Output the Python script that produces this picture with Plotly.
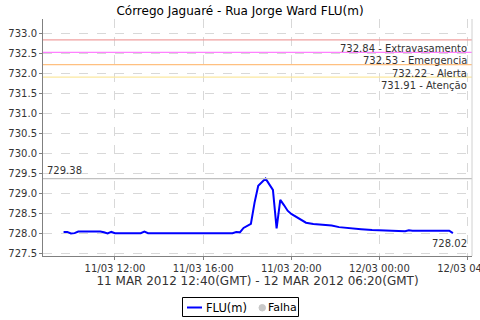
import plotly.graph_objects as go

# Series (local time)
times = ["2012-03-11 09:40", "2012-03-11 09:50", "2012-03-11 10:00", "2012-03-11 10:10",
         "2012-03-11 10:20", "2012-03-11 11:20", "2012-03-11 11:30", "2012-03-11 11:40",
         "2012-03-11 11:50", "2012-03-11 12:00", "2012-03-11 13:10", "2012-03-11 13:20",
         "2012-03-11 13:30", "2012-03-11 17:20", "2012-03-11 17:30", "2012-03-11 17:40",
         "2012-03-11 17:50", "2012-03-11 18:00", "2012-03-11 18:10", "2012-03-11 18:20",
         "2012-03-11 18:30", "2012-03-11 18:50", "2012-03-11 19:10", "2012-03-11 19:20",
         "2012-03-11 19:30", "2012-03-11 19:40", "2012-03-11 19:50", "2012-03-11 20:00",
         "2012-03-11 20:10", "2012-03-11 20:40", "2012-03-11 21:00", "2012-03-11 21:50",
         "2012-03-11 22:10", "2012-03-11 22:30", "2012-03-11 23:10", "2012-03-11 23:40",
         "2012-03-12 01:00", "2012-03-12 01:10", "2012-03-12 01:20", "2012-03-12 01:30",
         "2012-03-12 03:10", "2012-03-12 03:20"]
flu = [728.05, 728.05, 728.01, 728.02,
       728.06, 728.06, 728.04, 728.01,
       728.05, 728.02, 728.02, 728.06,
       728.02, 728.02, 728.05, 728.04,
       728.15, 728.20, 728.25, 728.78,
       729.20, 729.38, 729.10, 728.14,
       728.85, 728.72, 728.58, 728.50,
       728.45, 728.28, 728.25, 728.21,
       728.17, 728.15, 728.12, 728.10,
       728.08, 728.07, 728.09, 728.08,
       728.08, 728.02]

# Threshold markers
levels = [732.84, 732.53, 732.22, 731.91]
level_names = ["Extravasamento", "Emergencia", "Alerta", "Atenção"]
level_colors = ["#f0a0a0", "#ff80ff", "#ffc080", "#fbe8a0"]

max_val = 729.38
last_val = 728.02

title = "Córrego Jaguaré - Rua Jorge Ward FLU(m)"
xlabel = "11 MAR 2012 12:40(GMT) - 12 MAR 2012 06:20(GMT)"
legend_names = ["FLU(m)", "Falha"]

FONT = "DejaVu Sans"

# plot area in pixels (for placing the hand-made legend)
L, R, T, B = 43, 472, 19, 256
W, H = R - L, B - T


def px(x):
    return (x - L) / W


def py(y):
    return (B - y) / H


fig = go.Figure()
fig.add_trace(go.Scatter(x=times, y=flu, mode="lines", name=legend_names[0],
                         line=dict(color="#0000ff", width=2), showlegend=False))

shapes = []
annotations = []
for v, n, c in zip(levels, level_names, level_colors):
    shapes.append(dict(type="line", xref="paper", x0=0, x1=1, yref="y", y0=v, y1=v,
                       line=dict(color=c, width=1.2)))
    annotations.append(dict(xref="paper", x=1, xshift=-3, yref="y", y=v, yshift=-1,
                            text=f"{v:.2f} - {n}", showarrow=False,
                            xanchor="right", yanchor="top",
                            font=dict(family=FONT, size=10, color="#333333")))
shapes.append(dict(type="line", xref="paper", x0=0, x1=1, yref="y", y0=max_val, y1=max_val,
                   line=dict(color="#c0c0c0", width=1.2)))
annotations.append(dict(xref="paper", x=0, xshift=2, yref="y", y=max_val, yshift=1,
                        text=f"{max_val:.2f}", showarrow=False, xanchor="left", yanchor="bottom",
                        font=dict(family=FONT, size=10, color="#333333")))
annotations.append(dict(xref="paper", x=1, xshift=-3, yref="y", y=last_val, yshift=-3,
                        text=f"{last_val:.2f}", showarrow=False, xanchor="right", yanchor="top",
                        font=dict(family=FONT, size=10, color="#333333")))

# right border of the plot
shapes.append(dict(type="line", xref="paper", x0=1, x1=1, yref="paper", y0=0, y1=1,
                   line=dict(color="#d0d0d0", width=1)))

# hand-made legend box
shapes.append(dict(type="rect", xref="paper", yref="paper",
                   x0=px(182.5), x1=px(298.5), y0=py(297.5), y1=py(316.5),
                   line=dict(color="#000000", width=1), fillcolor="white"))
shapes.append(dict(type="line", xref="paper", yref="paper",
                   x0=px(187), x1=px(202), y0=py(307.5), y1=py(307.5),
                   line=dict(color="#0000ff", width=2)))
shapes.append(dict(type="circle", xref="paper", yref="paper",
                   x0=px(259), x1=px(265.5), y0=py(304.5), y1=py(311),
                   line=dict(color="#c8c8c8", width=1), fillcolor="#c8c8c8"))
annotations.append(dict(xref="paper", yref="paper", x=px(205), y=py(307.5),
                        text=legend_names[0], showarrow=False, xanchor="left", yanchor="middle",
                        xshift=-1, font=dict(family=FONT, size=11.5, color="#000000")))
annotations.append(dict(xref="paper", yref="paper", x=px(267), y=py(307.5),
                        text=legend_names[1], showarrow=False, xanchor="left", yanchor="middle",
                        xshift=-1, font=dict(family=FONT, size=11, color="#000000")))

fig.update_layout(
    width=480, height=320,
    margin=dict(l=L, r=480 - R, t=T, b=320 - B, autoexpand=False),
    paper_bgcolor="white", plot_bgcolor="white",
    font=dict(family=FONT, size=11, color="#333333"),
    title=dict(text=title, x=0.5, xanchor="center", y=1, yref="paper", yanchor="bottom",
               pad=dict(b=4), font=dict(family=FONT, size=12, color="#000000")),
    shapes=shapes, annotations=annotations,
    showlegend=False,
    xaxis=dict(type="date", range=["2012-03-11 08:44", "2012-03-12 04:12"],
               tick0="2012-03-11 00:00", dtick=4 * 3600000, tickformat="%d/%m %H:%M",
               showgrid=True, gridcolor="#d8d8d8", griddash="dash", gridwidth=1,
               showline=True, linecolor="#808080", linewidth=1, mirror=False,
               ticks="outside", ticklen=3, tickcolor="#808080",
               ticklabeloverflow="allow",
               tickfont=dict(family=FONT, size=10, color="#333333"),
               title=dict(text=xlabel, standoff=3, font=dict(family=FONT, size=12, color="#333333")),
               zeroline=False, automargin=False),
    yaxis=dict(range=[727.45, 733.36], dtick=0.5, tickformat=".1f",
               showgrid=True, gridcolor="#d8d8d8", griddash="dash", gridwidth=1,
               showline=True, linecolor="#808080", linewidth=1,
               ticks="outside", ticklen=3, tickcolor="#808080",
               tickfont=dict(family=FONT, size=10, color="#333333"),
               zeroline=False, automargin=False),
)

fig.write_html("out.html")
